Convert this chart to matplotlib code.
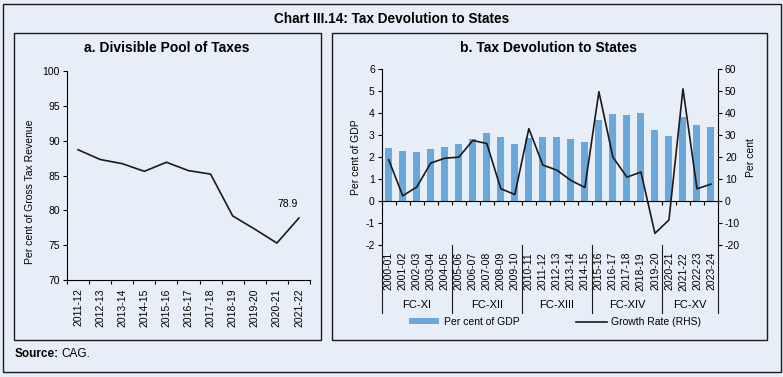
import matplotlib
matplotlib.use("Agg")
import matplotlib.pyplot as plt
from matplotlib.patches import Rectangle, Patch
from matplotlib.lines import Line2D
import matplotlib.transforms as mtransforms

plt.rcParams['font.family'] = ['Liberation Sans', 'DejaVu Sans']
plt.rcParams['axes.unicode_minus'] = False

# ---------------- data ----------------
years_a = ['2011-12', '2012-13', '2013-14', '2014-15', '2015-16', '2016-17',
           '2017-18', '2018-19', '2019-20', '2020-21', '2021-22']
divisible_pool = [88.7, 87.3, 86.7, 85.6, 86.9, 85.7, 85.2, 79.2, 77.3, 75.3, 78.9]

years_b = ['2000-01', '2001-02', '2002-03', '2003-04', '2004-05',
           '2005-06', '2006-07', '2007-08', '2008-09', '2009-10',
           '2010-11', '2011-12', '2012-13', '2013-14', '2014-15',
           '2015-16', '2016-17', '2017-18', '2018-19', '2019-20',
           '2020-21', '2021-22', '2022-23', '2023-24']
gdp_share = [2.42, 2.29, 2.24, 2.35, 2.46, 2.61, 2.83, 3.11, 2.91, 2.59,
             2.89, 2.91, 2.92, 2.83, 2.70, 3.67, 3.95, 3.94, 4.03, 3.24,
             2.98, 3.82, 3.47, 3.38]
growth_rate = [18.8, 2.4, 6.4, 17.3, 19.5, 20.0, 27.6, 26.2, 5.6, 3.0,
               33.0, 16.4, 14.1, 9.4, 6.2, 49.8, 20.0, 10.9, 13.2, -14.7,
               -8.6, 51.1, 5.6, 7.7]
fc_labels = ['FC-XI', 'FC-XII', 'FC-XIII', 'FC-XIV', 'FC-XV']
fc_sizes = [5, 5, 5, 5, 4]

# ---------------- style ----------------
BG = '#e8eef7'
BAR = '#6aa8dc'
FRAME = '#1a1a1a'
W, H = 783, 377
FS = 7.5

fig = plt.figure(figsize=(W / 100, H / 100), dpi=100, facecolor=BG)


def fx(x):
    return x / W


def fy(y):
    return 1 - y / H


def frame(x0, y0, x1, y1, lw=1.0):
    fig.patches.append(Rectangle((fx(x0), fy(y1)), fx(x1) - fx(x0), fy(y0) - fy(y1),
                                 transform=fig.transFigure, fill=False,
                                 edgecolor=FRAME, linewidth=lw))


frame(3, 4, 781, 372, 1.0)
frame(14, 33, 321, 340, 1.0)
frame(332, 33, 767, 340, 1.0)

fig.text(fx(392), fy(19), 'Chart III.14: Tax Devolution to States', ha='center', va='center',
         fontsize=9.8, fontweight='bold')
fig.text(fx(167), fy(48), 'a. Divisible Pool of Taxes', ha='center', va='center',
         fontsize=10, fontweight='bold')
fig.text(fx(549), fy(48), 'b. Tax Devolution to States', ha='center', va='center',
         fontsize=10, fontweight='bold')
src = fig.text(fx(15), fy(354), 'Source:', ha='left', va='center', fontsize=8.5,
               fontweight='bold')
fig.canvas.draw()
bb = src.get_window_extent()
fig.text((bb.x1 + 2) / W, fy(354), 'CAG.', ha='left', va='center', fontsize=8.5)

# ---------------- panel a ----------------
axa = fig.add_axes([fx(67), fy(280), fx(310) - fx(67), fy(71) - fy(280)])
axa.set_facecolor('none')
xa = list(range(len(years_a)))
axa.plot(xa, divisible_pool, color='#1a1a1a', linewidth=1.2)
axa.set_xlim(-0.5, len(years_a) - 0.5)
axa.set_ylim(70, 100)
axa.set_yticks(range(70, 101, 5))
axa.set_xticks([i - 0.5 for i in range(len(years_a) + 1)])
axa.set_xticklabels([])
axa.set_xticks(xa, minor=True)
axa.set_xticklabels(years_a, minor=True, rotation=90, fontsize=FS)
axa.tick_params(axis='x', which='minor', length=0, pad=6)
axa.tick_params(axis='x', which='major', length=3, direction='out')
axa.tick_params(axis='y', length=3, direction='out', labelsize=FS, pad=2)
for s in ['top', 'right']:
    axa.spines[s].set_visible(False)
for s in ['left', 'bottom']:
    axa.spines[s].set_linewidth(0.8)
axa.set_ylabel('Per cent of Gross Tax Revenue', fontsize=FS)
axa.yaxis.set_label_coords((35 - 67) / 243, (280 - 192) / 209)
axa.annotate(f'{divisible_pool[-1]:.1f}', xy=(xa[-1], divisible_pool[-1]),
             xytext=(-8, 10), textcoords='offset points', ha='center', va='center',
             fontsize=FS)

# ---------------- panel b ----------------
axb = fig.add_axes([fx(381.7), fy(245), fx(718) - fx(381.7), fy(69.3) - fy(245)])
axb.set_facecolor('none')
xb = list(range(len(years_b)))
axb.bar(xb, gdp_share, width=0.5, color=BAR, zorder=1, label='Per cent of GDP')
axb.set_xlim(-0.5, len(years_b) - 0.5)
axb.set_ylim(-2, 6)
axb.set_yticks(range(-2, 7, 1))
axb.tick_params(axis='y', length=3, direction='out', labelsize=FS, pad=2)
axb.spines['top'].set_visible(False)
axb.spines['right'].set_visible(False)
axb.spines['bottom'].set_position(('data', 0))
axb.spines['bottom'].set_linewidth(0.8)
axb.spines['left'].set_linewidth(0.8)
axb.set_xticks([i - 0.5 for i in range(len(years_b) + 1)])
axb.set_xticklabels([])
axb.tick_params(axis='x', length=3, direction='out')
axb.set_ylabel('Per cent of GDP', fontsize=FS, labelpad=3)

axr = axb.twinx()
axr.set_facecolor('none')
axr.plot(xb, growth_rate, color='#1a1a1a', linewidth=1.2, zorder=3, label='Growth Rate (RHS)')
axr.set_ylim(-20, 60)
axr.set_yticks(range(-20, 61, 10))
axr.tick_params(axis='y', length=3, direction='out', labelsize=FS, pad=2)
for s in ['top', 'bottom', 'left']:
    axr.spines[s].set_visible(False)
axr.spines['right'].set_linewidth(0.8)
axr.set_ylabel('Per cent', fontsize=FS, labelpad=4)

# year labels at bottom
trans = mtransforms.blended_transform_factory(axb.transData, axb.transAxes)
axh = H * (fy(69.3) - fy(245))
for i, yr in enumerate(years_b):
    axb.text(i, -7 / axh, yr, rotation=90, ha='center', va='top', fontsize=FS,
             transform=trans, clip_on=False)

# group separators and labels
sep_bottom = -(313 - 245) / axh
lab_y = -(305 - 245) / axh
start = 0
bounds = [-0.5]
for lab, n in zip(fc_labels, fc_sizes):
    end = start + n
    bounds.append(end - 0.5)
    axb.text((start + end - 1) / 2, lab_y, lab, ha='center', va='center', fontsize=8,
             transform=trans, clip_on=False)
    start = end
for b in bounds:
    axb.add_line(Line2D([b, b], [0, sep_bottom], transform=trans, color=FRAME,
                        linewidth=0.8, clip_on=False))

handles = [Patch(facecolor=BAR, edgecolor='none', label='Per cent of GDP'),
           Line2D([], [], color='#1a1a1a', linewidth=1.2, label='Growth Rate (RHS)')]
fig.legend(handles=handles, loc='center', bbox_to_anchor=(fx(555), fy(322)), ncol=2,
           frameon=False, fontsize=FS, handlelength=2.9, handleheight=0.5,
           columnspacing=5.5, handletextpad=0.4, borderaxespad=0, borderpad=0)

fig.savefig('out.png', dpi=100, facecolor=BG)
